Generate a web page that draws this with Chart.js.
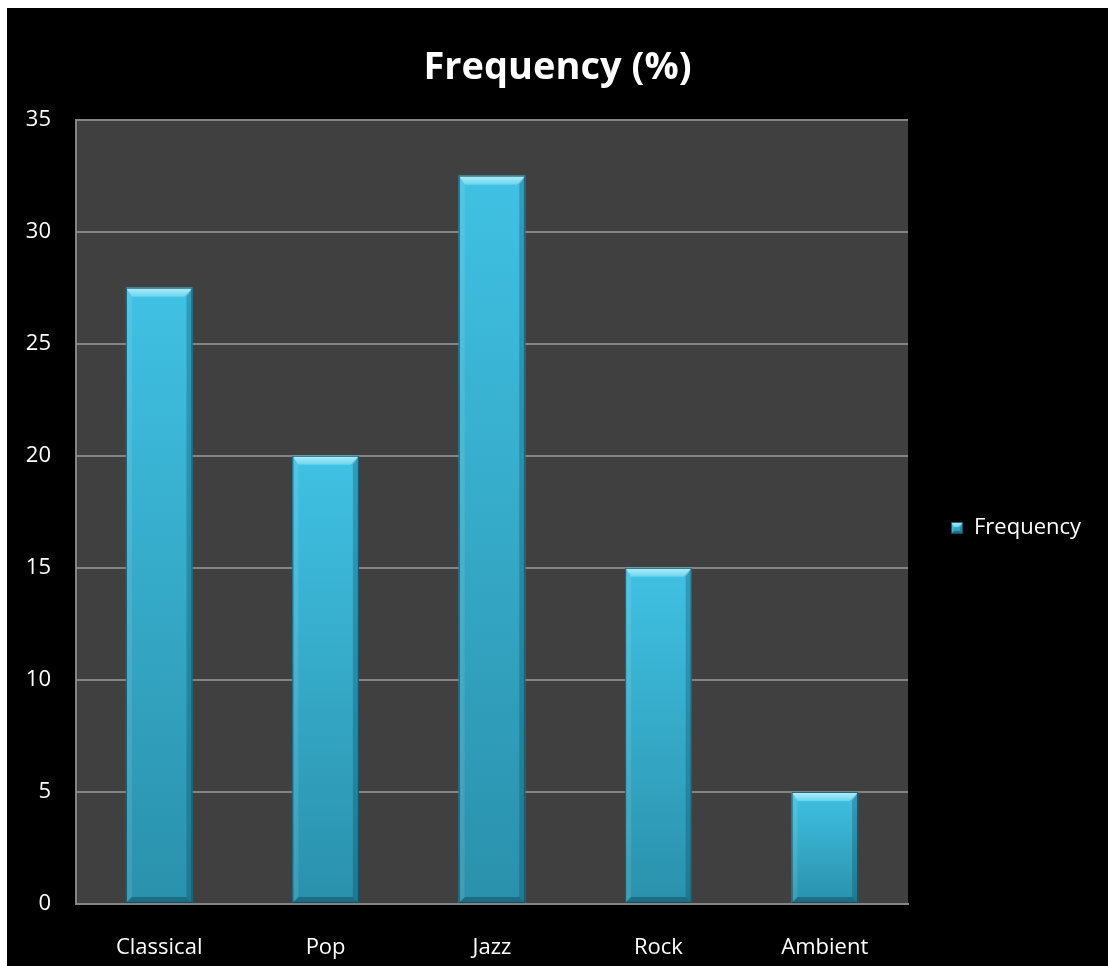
<!DOCTYPE html>
<html>
<head>
<meta charset="utf-8">
<title>Frequency (%)</title>
<script src="https://cdn.jsdelivr.net/npm/chart.js@4.4.1/dist/chart.umd.min.js"></script>
<style>
  html, body { margin: 0; padding: 0; background: #ffffff; }
  #frame { position: absolute; left: 7px; top: 8px; width: 1101px; height: 958px; background: #000000; }
  canvas { display: block; }
</style>
</head>
<body>
<div id="frame"><canvas id="chart" width="1101" height="958"></canvas></div>
<script>
// Chart data
const categories = ['Classical', 'Pop', 'Jazz', 'Rock', 'Ambient'];
const frequency = [27.5, 20, 32.5, 15, 5];
const yTicks = [0, 5, 10, 15, 20, 25, 30, 35];
const seriesName = 'Frequency';
const chartTitle = 'Frequency (%)';

const FONT = "'Open Sans', 'Liberation Sans', sans-serif";
const GRID = '#858585';

// Draws a bevelled box (lit from the top) between L..R and T..B
function bevelBox(ctx, L, T, R, B, bt, bs) {
  const poly = (pts, fill) => {
    ctx.beginPath();
    ctx.moveTo(pts[0][0], pts[0][1]);
    for (let i = 1; i < pts.length; i++) ctx.lineTo(pts[i][0], pts[i][1]);
    ctx.closePath();
    ctx.fillStyle = fill;
    ctx.fill();
  };
  ctx.save();
  const face = ctx.createLinearGradient(0, T, 0, B);
  face.addColorStop(0, '#40c1e3');
  face.addColorStop(1, '#2a91ac');
  ctx.fillStyle = face;
  ctx.fillRect(L, T, R - L, B - T);
  // left edge, slightly lit
  poly([[L, T], [L + bs, T + bt], [L + bs, B - bs], [L, B]], 'rgba(255,255,255,0.10)');
  // right edge, shaded
  poly([[R, T], [R, B], [R - bs, B - bs], [R - bs, T + bt]], 'rgba(0,40,60,0.24)');
  // bottom edge, shaded
  poly([[L, B], [R, B], [R - bs, B - bs], [L + bs, B - bs]], 'rgba(0,40,60,0.34)');
  // top edge, bright
  const top = ctx.createLinearGradient(0, T, 0, T + bt);
  top.addColorStop(0, '#b4eefa');
  top.addColorStop(0.5, '#8fe2f5');
  top.addColorStop(1, '#6ad4ed');
  poly([[L, T], [R, T], [R - bs, T + bt], [L + bs, T + bt]], top);
  // top-right corner of the bevel is a little darker
  poly([[R, T], [R - bs, T + bt], [R - bs - 2, T + bt]], 'rgba(0,60,80,0.25)');
  // outline
  ctx.strokeStyle = 'rgba(14,70,92,0.85)';
  ctx.lineWidth = 1;
  ctx.strokeRect(L + 0.5, T + 0.5, R - L - 1, B - T - 1);
  ctx.restore();
}

// Small bevelled swatch used as the legend marker
const swatch = document.createElement('canvas');
swatch.width = 12; swatch.height = 12;
bevelBox(swatch.getContext('2d'), 0, 0, 12, 12, 5, 3);

const plotBackground = {
  id: 'plotBackground',
  beforeDraw(chart) {
    const { ctx, chartArea: a } = chart;
    ctx.save();
    ctx.fillStyle = '#404040';
    ctx.fillRect(a.left, a.top, a.right - a.left, a.bottom - a.top);
    ctx.restore();
  }
};

const bevelBars = {
  id: 'bevelBars',
  afterDatasetsDraw(chart) {
    const ctx = chart.ctx;
    chart.getDatasetMeta(0).data.forEach(el => {
      const { x, y, base, width } = el.getProps(['x', 'y', 'base', 'width'], true);
      bevelBox(ctx, x - width / 2, y, x + width / 2, base, 9, 6);
    });
  }
};

const legendPlacement = {
  id: 'legendPlacement',
  beforeLayout(chart) {
    const lg = chart.legend;
    if (lg && !lg._fixedFit) {
      const fit = lg.fit;
      lg.fit = function () { fit.call(this); this.width = 200; };
      lg._fixedFit = true;
    }
  },
  afterLayout(chart) {
    const lg = chart.legend;
    if (!lg) return;
    const d = 520 - (lg.top + lg.bottom) / 2;
    lg.top += d;
    lg.bottom += d;
  }
};

new Chart(document.getElementById('chart'), {
  type: 'bar',
  data: {
    labels: categories,
    datasets: [{
      label: seriesName,
      data: frequency,
      backgroundColor: '#36abc9',
      borderWidth: 0,
      barPercentage: 0.4,
      categoryPercentage: 1.0
    }]
  },
  options: {
    responsive: false,
    animation: false,
    devicePixelRatio: 1,
    layout: { padding: 0 },
    plugins: {
      title: {
        display: true,
        text: chartTitle,
        color: '#ffffff',
        font: { family: FONT, size: 38, weight: 'bold' },
        padding: { top: 37, bottom: 29 }
      },
      legend: {
        display: true,
        position: 'right',
        labels: {
          color: '#ffffff',
          font: { family: FONT, size: 22 },
          usePointStyle: true,
          pointStyle: swatch,
          boxWidth: 12,
          boxHeight: 12,
          padding: 43
        }
      },
      tooltip: { enabled: false }
    },
    scales: {
      x: {
        grid: { display: false },
        border: { display: true, color: GRID, width: 2 },
        ticks: { color: '#ffffff', font: { family: FONT, size: 22 }, padding: 23 },
        afterFit(scale) { scale.height = 62; }
      },
      y: {
        min: 0,
        max: 35,
        afterBuildTicks(scale) { scale.ticks = yTicks.map(v => ({ value: v })); },
        grid: { color: GRID, lineWidth: 2, drawTicks: false },
        border: { display: true, color: GRID, width: 2 },
        ticks: { color: '#ffffff', font: { family: FONT, size: 22 }, padding: 25 },
        afterFit(scale) { scale.width = 69; }
      }
    }
  },
  plugins: [plotBackground, bevelBars, legendPlacement]
});
</script>
</body>
</html>
